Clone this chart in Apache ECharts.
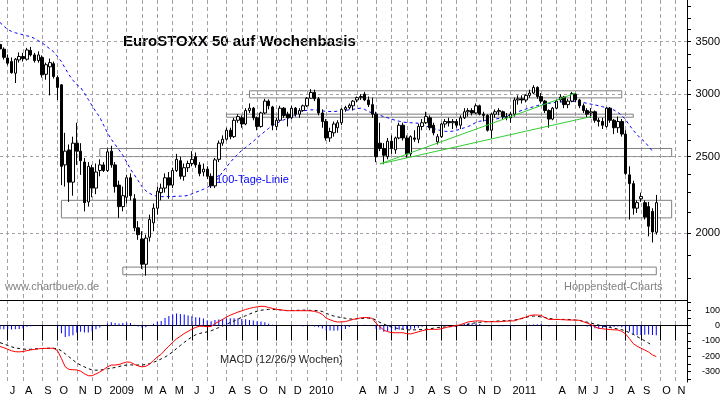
<!DOCTYPE html>
<html>
<head>
<meta charset="utf-8">
<script src="https://cdn.jsdelivr.net/npm/echarts@6/dist/echarts.min.js"></script>
<style>
html, body { margin: 0; padding: 0; background: #fff; }
#chart { width: 723px; height: 397px; }
</style>
</head>
<body>
<div id="chart"></div>
<script>
// weekly candles, one category per Friday
const firstWeek = Date.UTC(2008, 5, 20)
const weekCount = 180
const weeks = []
for (let i = 0; i < weekCount; i++) {
  weeks.push(new Date(firstWeek + i * 7 * 86400000).toISOString().slice(0, 10))
}

// labels of the month ticks, Jul 2008 .. Nov 2011 ('' = tick without label)
const monthLabels = ['J','A','S','O','N','D','2009','','M','A','M','J','J','A','S','O','N','D',
  '2010','','','A','M','J','J','A','S','O','N','D','2011','','','A','M','J','J','A','S','O','N']

const priceLabels = [2000, 2500, 3000, 3500]
const priceTicks = [1750, 1875, 2000, 2125, 2250, 2375, 2500, 2625, 2750, 2875, 3000, 3125, 3250, 3375, 3500, 3625, 3750, 3875]
const macdLabels = [-300, -200, -100, 0, 100]
const macdTicks = [-350, -300, -250, -200, -150, -100, -50, 0, 50, 100, 150]

const opens = [
  3470, 3422, 3335, 3300, 3190, 3316, 3350, 3323, 3410, 3365,
  3310, 3340, 3180, 3250, 3280, 3150, 3083, 2440, 2549, 2320,
  2600, 2540, 2460, 2190, 2420, 2280, 2400, 2440, 2400, 2540,
  2440, 2300, 2160, 2220, 2350, 2210, 2030, 1965, 1825, 1975,
  2060, 2150, 2250, 2280, 2350, 2300, 2400, 2470, 2360, 2420,
  2450, 2500, 2440, 2390, 2410, 2360, 2295, 2480, 2600, 2630,
  2700, 2650, 2780, 2800, 2750, 2860, 2880, 2800, 2730, 2840,
  2940, 2890, 2730, 2780, 2880, 2830, 2800, 2880, 2830, 2860,
  2900, 2965, 3015, 2960, 2840, 2770, 2640, 2680, 2720, 2760,
  2870, 2885, 2900, 2950, 2970, 3000, 2950, 2910, 2830, 2600,
  2560, 2500, 2615, 2550, 2640, 2740, 2640, 2520, 2640, 2630,
  2730, 2760, 2800, 2740, 2610, 2650, 2750, 2770, 2760, 2770,
  2740, 2800, 2850, 2860, 2840, 2900, 2830, 2820, 2700, 2830,
  2850, 2850, 2810, 2800, 2830, 2950, 2960, 2950, 2990, 3010,
  3060, 2980, 2940, 2860, 2790, 2880, 2950, 2975, 2910, 2940,
  3000, 2950, 2900, 2860, 2840, 2850, 2780, 2770, 2730, 2880,
  2780, 2720, 2770, 2670, 2370, 2310, 2150, 2210, 2185, 2160,
  2130, 2004
]
const highs = [
  3490, 3440, 3370, 3340, 3335, 3390, 3385, 3435, 3445, 3385,
  3400, 3360, 3290, 3330, 3300, 3170, 3090, 2680, 2590, 2650,
  2760, 2600, 2490, 2460, 2440, 2450, 2480, 2460, 2560, 2580,
  2460, 2330, 2290, 2370, 2380, 2240, 2070, 2010, 1990, 2110,
  2180, 2290, 2310, 2380, 2390, 2420, 2520, 2500, 2450, 2470,
  2540, 2530, 2460, 2450, 2430, 2380, 2490, 2620, 2660, 2720,
  2720, 2800, 2830, 2820, 2880, 2920, 2890, 2810, 2850, 2960,
  2955, 2900, 2800, 2900, 2890, 2850, 2900, 2890, 2880, 2910,
  2975, 3045, 3040, 2975, 2870, 2790, 2720, 2770, 2780, 2880,
  2900, 2920, 2950, 2980, 3000, 3020, 2980, 2970, 2850, 2760,
  2600, 2640, 2660, 2650, 2760, 2760, 2660, 2660, 2700, 2750,
  2790, 2850, 2820, 2760, 2670, 2760, 2790, 2800, 2790, 2790,
  2820, 2880, 2880, 2880, 2920, 2910, 2850, 2830, 2840, 2870,
  2880, 2860, 2840, 2850, 2970, 2990, 2990, 3000, 3040, 3080,
  3070, 3010, 2950, 2870, 2890, 2950, 3000, 2985, 2960, 3020,
  3010, 2960, 2920, 2880, 2880, 2860, 2800, 2800, 2890, 2890,
  2790, 2810, 2790, 2700, 2430, 2330, 2200, 2250, 2200, 2190,
  2150, 2235
]
const lows = [
  3400, 3320, 3265, 3185, 3100, 3290, 3300, 3310, 3350, 3290,
  3290, 3150, 3130, 2990, 3140, 2950, 2300, 2290, 2190, 2230,
  2440, 2370, 2130, 2160, 2220, 2240, 2360, 2390, 2390, 2420,
  2250, 2090, 2130, 2180, 2200, 2010, 1960, 1800, 1765, 1950,
  2010, 2110, 2200, 2250, 2210, 2280, 2390, 2340, 2330, 2390,
  2430, 2420, 2360, 2360, 2340, 2280, 2280, 2460, 2580, 2620,
  2630, 2640, 2760, 2720, 2740, 2840, 2780, 2700, 2720, 2830,
  2870, 2700, 2700, 2770, 2800, 2730, 2790, 2810, 2800, 2850,
  2890, 2960, 2940, 2820, 2720, 2620, 2610, 2650, 2680, 2740,
  2850, 2870, 2860, 2930, 2950, 2940, 2890, 2800, 2460, 2540,
  2445, 2480, 2520, 2520, 2630, 2620, 2490, 2500, 2610, 2600,
  2700, 2750, 2700, 2660, 2590, 2640, 2720, 2730, 2710, 2720,
  2710, 2790, 2810, 2820, 2830, 2820, 2770, 2690, 2635, 2800,
  2820, 2790, 2780, 2760, 2810, 2910, 2920, 2930, 2970, 3000,
  2960, 2920, 2840, 2720, 2780, 2870, 2930, 2880, 2880, 2930,
  2930, 2880, 2840, 2800, 2800, 2760, 2730, 2710, 2720, 2760,
  2670, 2680, 2650, 2370, 2080, 2110, 2120, 2190, 2080, 1980,
  1945, 1990
]
const closes = [
  3425, 3342, 3285, 3195, 3323, 3350, 3330, 3414, 3365, 3310,
  3365, 3175, 3270, 3290, 3160, 3060, 2430, 2540, 2320, 2600,
  2540, 2470, 2185, 2430, 2280, 2390, 2440, 2400, 2535, 2440,
  2290, 2160, 2230, 2350, 2230, 2030, 1990, 1825, 1970, 2080,
  2150, 2260, 2280, 2350, 2300, 2400, 2480, 2360, 2420, 2450,
  2480, 2440, 2380, 2410, 2360, 2295, 2476, 2600, 2630, 2700,
  2650, 2780, 2810, 2750, 2860, 2880, 2800, 2730, 2840, 2940,
  2900, 2740, 2780, 2880, 2820, 2800, 2880, 2830, 2860, 2900,
  2965, 3015, 2960, 2840, 2770, 2640, 2690, 2750, 2760, 2870,
  2885, 2905, 2940, 2970, 2980, 2950, 2910, 2830, 2500, 2560,
  2510, 2615, 2560, 2640, 2740, 2640, 2520, 2650, 2630, 2730,
  2760, 2810, 2720, 2680, 2650, 2750, 2770, 2760, 2770, 2740,
  2800, 2850, 2860, 2840, 2900, 2830, 2820, 2700, 2830, 2850,
  2860, 2810, 2800, 2830, 2950, 2960, 2950, 2990, 3010, 3060,
  2980, 2940, 2860, 2790, 2880, 2940, 2975, 2910, 2940, 3005,
  2950, 2900, 2860, 2830, 2850, 2780, 2770, 2740, 2880, 2780,
  2720, 2770, 2670, 2380, 2310, 2150, 2185, 2225, 2095, 2040,
  2006, 2185
]

// 100-Tage-Linie
const ma100 = [
  3700, 3660, 3625, 3605, 3590, 3580, 3568, 3558, 3550, 3530,
  3508, 3485, 3455, 3425, 3395, 3350, 3300, 3235, 3175, 3125,
  3085, 3060, 3010, 2955, 2900, 2850, 2805, 2740, 2680, 2630,
  2590, 2550, 2510, 2460, 2410, 2370, 2330, 2290, 2262, 2245,
  2232, 2226, 2224, 2224, 2224, 2225, 2226, 2227, 2228, 2232,
  2242, 2252, 2262, 2272, 2285, 2300, 2322, 2352, 2390, 2425,
  2458, 2490, 2520, 2545, 2568, 2590, 2615, 2640, 2665, 2690,
  2715, 2738, 2755, 2770, 2784, 2796, 2810, 2826, 2845, 2858,
  2862, 2866, 2866, 2862, 2858, 2853, 2852, 2852, 2855, 2858,
  2862, 2866, 2870, 2876, 2880, 2870, 2852, 2840, 2830, 2820,
  2810, 2800, 2790, 2780, 2772, 2765, 2762, 2760, 2758, 2756,
  2745, 2733, 2724, 2714, 2704, 2697, 2692, 2690, 2693, 2700,
  2710, 2720, 2730, 2745, 2762, 2772, 2778, 2782, 2786, 2790,
  2795, 2805, 2815, 2826, 2838, 2850, 2862, 2872, 2882, 2892,
  2902, 2910, 2916, 2921, 2926, 2930, 2933, 2935, 2937, 2938,
  2937, 2933, 2928, 2921, 2914, 2908, 2900, 2892, 2884, 2874,
  2864, 2845, 2820, 2785, 2740, 2700, 2665, 2635, 2610, 2575,
  2540
]

const macdLine = [
  -137, -145, -155, -165, -171, -172, -170, -164, -159, -156,
  -152, -150, -149, -148, -149, -165, -215, -270, -287, -289,
  -290, -298, -315, -328, -328, -316, -304, -288, -270, -258,
  -258, -255, -246, -238, -240, -253, -264, -270, -266, -252,
  -228, -205, -188, -160, -135, -110, -87, -70, -52, -38,
  -23, -12, -4, -5, -7, -6, 12, 27, 40, 55,
  68, 78, 88, 96, 105, 112, 118, 122, 126, 125,
  118, 112, 106, 103, 100, 97, 97, 97, 97, 97,
  97, 96, 92, 86, 72, 48, 38, 28, 23, 24,
  26, 33, 40, 45, 50, 53, 52, 47, 14, -8,
  -30, -40, -46, -47, -47, -47, -53, -55, -48, -41,
  -34, -28, -25, -25, -25, -21, -14, -8, -4, 0,
  6, 15, 24, 27, 30, 31, 28, 25, 25, 25,
  25, 27, 29, 30, 31, 40, 48, 55, 65, 69,
  69, 66, 52, 40, 40, 40, 39, 38, 36, 36,
  36, 34, 25, 16, 6, -8, -18, -21, -24, -26,
  -28, -29, -38, -55, -85, -118, -135, -148, -160, -173,
  -192, -203
]
const signalLine = [
  -112, -120, -130, -139, -146, -150, -153, -156, -155, -153,
  -151, -150, -149, -149, -149, -152, -165, -185, -205, -225,
  -245, -258, -270, -282, -290, -292, -291, -288, -283, -279,
  -274, -268, -262, -258, -257, -258, -258, -258, -255, -249,
  -240, -230, -218, -206, -190, -172, -150, -130, -110, -92,
  -74, -60, -52, -46, -41, -34, -24, -13, -3, 8,
  20, 30, 42, 54, 64, 75, 85, 94, 100, 103,
  106, 106, 105, 102, 99, 97, 98, 99, 100, 101,
  100, 99, 98, 97, 92, 80, 70, 62, 56, 52,
  48, 43, 42, 44, 46, 48, 48, 47, 35, 20,
  10, -2, -10, -16, -20, -24, -28, -29, -28, -27,
  -26, -25, -22, -17, -13, -11, -9, -8, -6, -3,
  0, 3, 8, 14, 18, 21, 24, 25, 26, 28,
  30, 31, 32, 34, 36, 40, 46, 53, 60, 62,
  60, 56, 52, 47, 43, 40, 40, 40, 40, 38,
  36, 33, 28, 22, 16, 9, 3, -3, -8, -13,
  -18, -23, -27, -36, -46, -58, -72, -86, -100, -115,
  -130
]
const macdHist = [
  -25, -25, -25, -26, -25, -22, -17, -8, -4, -3,
  -1, -2, 1, 1, -1, -13, -50, -75, -70, -64,
  -45, -40, -45, -46, -38, -24, -13, 0, 13, 21,
  16, 13, 16, 20, 17, 5, -6, -12, -11, -3,
  12, 25, 30, 50, 62, 72, 78, 76, 72, 66,
  60, 55, 52, 46, 34, 28, 36, 40, 43, 47,
  48, 48, 46, 42, 41, 37, 33, 28, 26, 22,
  12, 6, 1, 1, 1, 0, -1, -2, -3, -4,
  -3, -3, -6, -11, -20, -32, -32, -34, -33, -28,
  -22, -10, -2, 1, 4, 5, 4, 0, -21, -28,
  -40, -38, -36, -31, -27, -23, -25, -26, -20, -14,
  -8, 2, 3, 2, 1, 2, 3, 0, 2, 3,
  6, 12, 16, 13, 12, 10, 4, 0, -1, -3,
  -5, -4, -3, -4, -5, 0, 2, 2, 5, 7,
  9, 10, 0, -7, -3, 0, -1, -2, -4, -2,
  0, 1, -3, -6, -10, -17, -21, -18, -16, -13,
  -10, -6, -11, -19, -39, -60, -63, -62, -60, -58,
  -62, -63
]

// drawn zones [from week, to week, upper price, lower price]
const zones = [
  ['2009-09-18', '2011-07-29', 3030, 2968],
  ['2009-08-07', '2011-08-19', 2830, 2805],
  ['2008-12-19', '2011-10-28', 2560, 2500],
  ['2008-10-10', '2011-10-28', 2200, 2090],
  ['2009-01-30', '2011-09-30', 1810, 1770]
]
// trend lines [week, price, week, price]
const trendLines = [
  ['2010-05-14', 2447, '2011-05-06', 3010],
  ['2010-05-14', 2447, '2011-06-03', 2810]
]

const monthTick = {}
let m = 0
for (let i = 1; i < weeks.length; i++) {
  if (weeks[i].slice(5, 7) !== weeks[i - 1].slice(5, 7)) monthTick[i] = monthLabels[m++]
}
const isMonthTick = (i) => monthTick[i] !== undefined

const font = '"Liberation Sans", Arial, sans-serif'
const gridColor = '#a69ca8'
const candleData = opens.map((o, i) => [o, closes[i], lows[i], highs[i]])

const xAxisBase = {
  type: 'category',
  data: weeks,
  boundaryGap: false,
  axisLine: { lineStyle: { color: '#000', width: 1 } },
  splitLine: { show: true, interval: (i) => isMonthTick(i), lineStyle: { color: gridColor, type: [4, 3] } }
}

let myChart = echarts.init(document.getElementById('chart'))
myChart.setOption({
  animation: false,
  textStyle: { fontFamily: font },
  grid: [
    { left: -1, right: 34, top: 0, height: 300 },
    { left: -1, right: 34, top: 300, height: 82 }
  ],
  xAxis: [
    Object.assign({}, xAxisBase, { gridIndex: 0, axisTick: { show: false }, axisLabel: { show: false } }),
    Object.assign({}, xAxisBase, {
      gridIndex: 1,
      axisTick: { show: true, interval: (i) => isMonthTick(i), length: 15, lineStyle: { color: '#000' } },
      axisLabel: {
        show: true, interval: (i) => isMonthTick(i),
        formatter: (v, i) => monthTick[i] || '',
        align: 'left', padding: [0, 0, 0, 2], margin: 3,
        color: '#000', fontSize: 11, fontFamily: font
      }
    })
  ],
  yAxis: [
    {
      type: 'log', logBase: 10, gridIndex: 0, position: 'right', min: 1644, max: 3951,
      axisLine: { show: true, lineStyle: { color: '#000' } },
      axisTick: { show: true, customValues: priceTicks, length: 4, lineStyle: { color: '#000' } },
      axisLabel: {
        customValues: priceLabels, formatter: (v) => String(Math.round(v)),
        color: '#000', fontSize: 11, align: 'right', margin: 33, fontFamily: font
      },
      splitLine: { show: false }
    },
    {
      type: 'value', gridIndex: 1, position: 'right', min: -369, max: 167,
      axisLine: { show: true, lineStyle: { color: '#000' } },
      axisTick: { show: true, customValues: macdTicks, length: 4, lineStyle: { color: '#000' } },
      axisLabel: {
        customValues: macdLabels, formatter: (v) => String(v),
        color: '#000', fontSize: 9, align: 'right', margin: 33, fontFamily: font
      },
      splitLine: { show: false }
    }
  ],
  series: [
    {
      type: 'line', name: '100-Tage-Linie', xAxisIndex: 0, yAxisIndex: 0, data: ma100,
      showSymbol: false, z: 2,
      lineStyle: { color: '#0000ff', width: 1, type: [3, 3] },
      markLine: {
        silent: true, symbol: 'none', z: 1, label: { show: false },
        lineStyle: { color: gridColor, width: 1, type: [3, 3] },
        data: priceLabels.map(v => ({ yAxis: v }))
      }
    },
    {
      type: 'candlestick', xAxisIndex: 0, yAxisIndex: 0, data: candleData, barWidth: 3, z: 3,
      itemStyle: { color: '#fff', color0: '#000', borderColor: '#000', borderColor0: '#000', borderWidth: 1 },
      markArea: {
        silent: true, z: 1,
        itemStyle: { color: 'rgba(255,255,255,0)', borderColor: '#7f7f7f', borderWidth: 1 },
        data: zones.map(z => [{ xAxis: z[0], yAxis: z[2] }, { xAxis: z[1], yAxis: z[3] }])
      },
      markLine: {
        silent: true, symbol: 'none', label: { show: false },
        lineStyle: { color: '#33cc33', width: 1, type: 'solid' },
        data: trendLines.map(t => [{ coord: [t[0], t[1]] }, { coord: [t[2], t[3]] }])
      }
    },
    {
      type: 'bar', xAxisIndex: 1, yAxisIndex: 1, data: macdHist, barWidth: 1,
      itemStyle: { color: '#0000ff' }
    },
    {
      type: 'line', xAxisIndex: 1, yAxisIndex: 1, data: signalLine, showSymbol: false,
      lineStyle: { color: '#000', width: 1, type: [3, 3] }
    },
    {
      type: 'line', xAxisIndex: 1, yAxisIndex: 1, data: macdLine, showSymbol: false,
      lineStyle: { color: '#ff0000', width: 1 }
    }
  ],
  graphic: [
    { type: 'text', left: 123, top: 34, style: { text: 'EuroSTOXX 50 auf Wochenbasis', font: 'bold 15px ' + font, fill: '#000' } },
    { type: 'text', left: 216, top: 174, style: { text: '100-Tage-Linie', font: '11px ' + font, fill: '#0000ff' } },
    { type: 'text', left: 5, top: 281, style: { text: 'www.chartbuero.de', font: '11px ' + font, fill: '#808080' } },
    { type: 'text', left: 564, top: 281, style: { text: 'Hoppenstedt-Charts', font: '11px ' + font, fill: '#808080' } },
    { type: 'text', left: 220, top: 354, style: { text: 'MACD (12/26/9 Wochen)', font: '11px ' + font, fill: '#222' } }
  ]
})
</script>
</body>
</html>
